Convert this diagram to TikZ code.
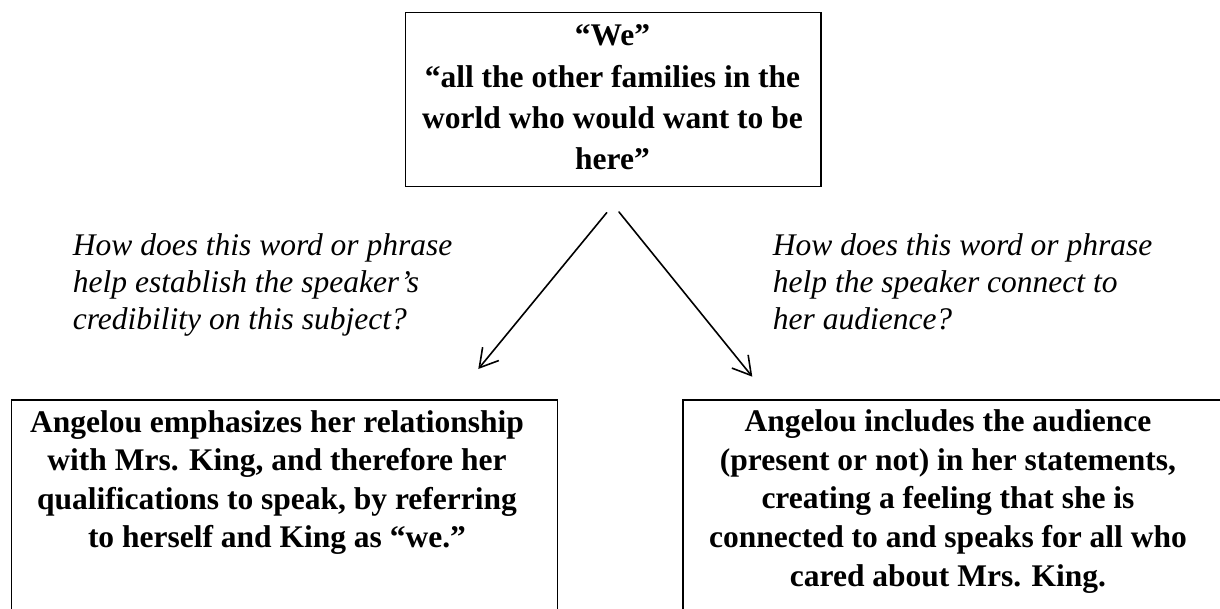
\documentclass[tikz,border=0pt]{standalone}
\usepackage{fontspec}
\setmainfont{Liberation Serif}
\usetikzlibrary{arrows.meta}
\begin{document}
\begin{tikzpicture}[x=1pt, y=-1pt,
  frame/.style={draw=black, line width=1.3pt, inner sep=0pt, anchor=north west},
  toptext/.style={anchor=base, inner sep=0pt,
    font=\fontsize{31.5}{41.3}\selectfont\bfseries},
  answer/.style={anchor=base, inner sep=0pt,
    font=\fontsize{31.5}{38.6}\selectfont\bfseries},
  question/.style={anchor=base west, inner sep=0pt,
    font=\fontsize{31.5}{37}\selectfont\itshape},
  arrowline/.style={draw=black, line width=1.6pt, line cap=round,
    -{Straight Barb[length=18pt, width=21pt, line width=1.6pt]}}]
\clip (0,0) rectangle (1220,609);
\fill[white] (0,0) rectangle (1220,609);

% boxes
\node[frame, minimum width=415.6pt, minimum height=174pt] (topbox) at (404.7,11.7) {};
\node[frame, minimum width=546pt, minimum height=260pt] (leftbox) at (10.7,399.4) {};
\node[frame, minimum width=560pt, minimum height=260pt] (rightbox) at (682.3,399.4) {};

% quoted words
\node[toptext] (toplabel) at (612.5,45.8) {\begin{tabular}[t]{@{}c@{}}“We”\\
  “all the other families in the\\
  world who would want to be\\
  here”\end{tabular}};

% guiding questions
\node[question] (q1) at (72.7,256) {\begin{tabular}[t]{@{}l@{}}How does this word or phrase\\
  help establish the speaker’s\\
  credibility on this subject?\end{tabular}};
\node[question] (q2) at (772.7,256) {\begin{tabular}[t]{@{}l@{}}How does this word or phrase\\
  help the speaker connect to\\
  her audience?\end{tabular}};

% answers
\node[answer] (a1) at (277,432) {\begin{tabular}[t]{@{}c@{}}Angelou emphasizes her relationship\\
  with Mrs. King, and therefore her\\
  qualifications to speak, by referring\\
  to herself and King as “we.”\end{tabular}};
\node[answer] (a2) at (948,431.7) {\begin{tabular}[t]{@{}c@{}}Angelou includes the audience\\
  (present or not) in her statements,\\
  creating a feeling that she is\\
  connected to and speaks for all who\\
  cared about Mrs. King.\end{tabular}};

% arrows
\coordinate (lstart) at (606.7,212.7);
\coordinate (lend) at (478.3,369);
\coordinate (rstart) at (619,212);
\coordinate (rend) at (752.3,376.7);
\draw[arrowline] (lstart) -- (lend);
\draw[arrowline] (rstart) -- (rend);
\end{tikzpicture}
\end{document}
